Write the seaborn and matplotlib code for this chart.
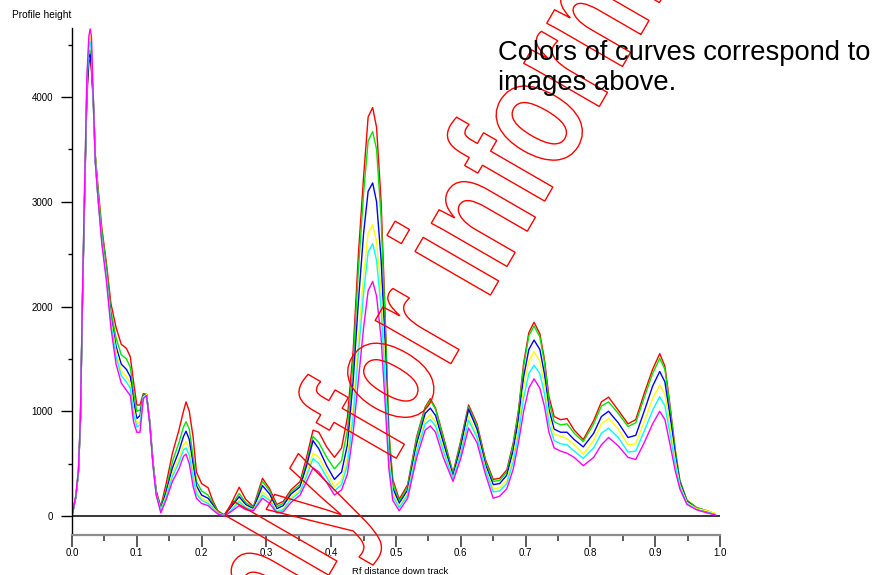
import numpy as np
import pandas as pd
import matplotlib
matplotlib.use("Agg")
import matplotlib.pyplot as plt
from matplotlib.ticker import MultipleLocator, FormatStrFormatter
from matplotlib.textpath import TextPath
from matplotlib.patches import PathPatch
from matplotlib.font_manager import FontProperties
from matplotlib.transforms import Affine2D, IdentityTransform
import seaborn as sns

# Rf position down the track (shared by all six profiles)
rf = [
    0.000, 0.006, 0.010, 0.013, 0.016, 0.018, 0.020, 0.023, 0.026, 0.028,
    0.030, 0.033, 0.036, 0.040, 0.046, 0.053, 0.060, 0.068, 0.076, 0.084,
    0.090, 0.095, 0.100, 0.105, 0.110, 0.115, 0.120, 0.125, 0.130, 0.137,
    0.145, 0.155, 0.165, 0.172, 0.176, 0.181, 0.187, 0.192, 0.200, 0.210,
    0.217, 0.225, 0.235, 0.245, 0.258, 0.268, 0.280, 0.294, 0.305, 0.316,
    0.326, 0.338, 0.352, 0.362, 0.372, 0.381, 0.393, 0.405, 0.416, 0.425,
    0.434, 0.442, 0.450, 0.457, 0.464, 0.470, 0.477, 0.483, 0.489, 0.495,
    0.505, 0.518, 0.532, 0.545, 0.553, 0.561, 0.573, 0.588, 0.600, 0.612,
    0.625, 0.638, 0.650, 0.660, 0.671, 0.681, 0.689, 0.697, 0.705, 0.713,
    0.722, 0.729, 0.736, 0.744, 0.754, 0.764, 0.775, 0.789, 0.805, 0.817,
    0.828, 0.843, 0.858, 0.870, 0.883, 0.896, 0.907, 0.915, 0.923, 0.931,
    0.938, 0.949, 0.964, 0.980, 0.993,
]

red = [
    0, 180, 420, 900, 2000, 2600, 3200, 4000, 4330, 4360,
    4250, 3970, 3450, 3150, 2750, 2420, 2030, 1800, 1640, 1600,
    1520, 1280, 1060, 1060, 1170, 1160, 900, 520, 240, 90,
    300, 600, 820, 1000, 1090, 1000, 750, 420, 310, 270,
    150, 50, 10, 110, 275, 160, 90, 360, 260, 110,
    140, 250, 330, 560, 820, 800, 660, 560, 650, 940,
    1590, 2500, 3240, 3810, 3900, 3710, 3000, 1970, 800, 350,
    160, 300, 760, 1040, 1120, 1030, 760, 410, 720, 1060,
    880, 540, 350, 360, 440, 700, 1010, 1460, 1750, 1850,
    1740, 1500, 1140, 950, 920, 930, 820, 730, 910, 1090,
    1135, 1010, 880, 920, 1170, 1400, 1550, 1430, 1050, 630,
    340, 150, 80, 50, 20,
]

green = [
    0, 190, 430, 920, 2020, 2650, 3250, 4100, 4420, 4450,
    4350, 3980, 3440, 3120, 2720, 2380, 1960, 1700, 1540, 1500,
    1420, 1180, 1000, 1010, 1160, 1160, 900, 510, 230, 80,
    250, 520, 700, 850, 900, 830, 560, 330, 240, 200,
    130, 40, 10, 90, 215, 130, 80, 330, 240, 90,
    120, 230, 300, 520, 760, 700, 560, 450, 530, 820,
    1480, 2350, 3080, 3580, 3670, 3500, 2850, 1900, 780, 320,
    140, 280, 740, 1030, 1105, 1020, 740, 400, 700, 1040,
    860, 520, 330, 340, 420, 680, 990, 1430, 1720, 1815,
    1710, 1470, 1100, 900, 870, 880, 790, 710, 880, 1050,
    1090, 980, 855, 890, 1130, 1360, 1505, 1400, 1030, 620,
    340, 150, 80, 50, 20,
]

blue = [
    0, 185, 425, 910, 2000, 2620, 3220, 4050, 4380, 4410,
    4300, 3920, 3380, 3050, 2650, 2320, 1900, 1620, 1450, 1400,
    1330, 1100, 930, 960, 1150, 1160, 890, 500, 220, 70,
    220, 460, 620, 760, 810, 730, 480, 290, 200, 170,
    110, 30, 10, 80, 185, 110, 70, 290, 210, 70,
    100, 210, 280, 480, 720, 640, 480, 350, 420, 680,
    1300, 2050, 2700, 3100, 3180, 3000, 2450, 1650, 680, 270,
    120, 250, 690, 980, 1030, 960, 700, 380, 660, 1020,
    830, 490, 300, 310, 390, 630, 920, 1330, 1590, 1680,
    1590, 1360, 1020, 830, 800, 800, 730, 660, 790, 950,
    1000, 890, 750, 770, 1000, 1240, 1380, 1280, 950, 580,
    320, 140, 70, 40, 15,
]

yellow = [
    0, 195, 440, 930, 2030, 2680, 3280, 4180, 4520, 4590,
    4500, 3940, 3400, 3060, 2640, 2300, 1870, 1570, 1390, 1330,
    1270, 1030, 880, 900, 1140, 1160, 890, 500, 210, 60,
    190, 410, 550, 680, 710, 640, 410, 240, 170, 140,
    90, 30, 5, 60, 155, 90, 60, 230, 170, 50,
    70, 180, 250, 410, 600, 560, 420, 280, 340, 560,
    1050, 1700, 2300, 2700, 2780, 2620, 2150, 1450, 600, 220,
    100, 220, 640, 920, 965, 900, 650, 360, 610, 950,
    780, 460, 260, 270, 340, 570, 840, 1230, 1480, 1570,
    1480, 1270, 950, 780, 760, 740, 680, 590, 720, 880,
    930, 830, 680, 690, 900, 1120, 1250, 1160, 860, 530,
    300, 130, 70, 50, 25,
]

cyan = [
    0, 190, 435, 920, 2020, 2660, 3260, 4150, 4480, 4530,
    4440, 3930, 3390, 3050, 2620, 2280, 1840, 1520, 1340, 1280,
    1220, 980, 850, 870, 1130, 1150, 885, 490, 200, 50,
    170, 380, 510, 630, 650, 580, 360, 210, 150, 120,
    80, 25, 5, 50, 137, 80, 55, 200, 150, 40,
    60, 160, 230, 380, 550, 500, 370, 240, 300, 490,
    950, 1550, 2130, 2520, 2600, 2440, 1980, 1320, 540, 190,
    80, 200, 610, 880, 920, 860, 620, 350, 590, 915,
    750, 440, 230, 240, 310, 520, 780, 1130, 1360, 1440,
    1360, 1170, 880, 720, 690, 680, 620, 550, 650, 790,
    840, 750, 610, 620, 810, 1010, 1140, 1050, 780, 490,
    280, 120, 60, 35, 15,
]

magenta = [
    0, 200, 450, 950, 2050, 2700, 3300, 4200, 4580, 4650,
    4580, 3950, 3380, 3050, 2600, 2250, 1800, 1450, 1270, 1200,
    1150, 900, 800, 800, 1120, 1150, 880, 480, 200, 30,
    150, 330, 450, 570, 590, 500, 280, 170, 120, 100,
    60, 20, 0, 40, 100, 60, 50, 170, 120, 30,
    40, 130, 200, 330, 460, 420, 320, 200, 250, 400,
    800, 1300, 1800, 2150, 2240, 2100, 1700, 1100, 450, 150,
    50, 170, 560, 820, 860, 800, 560, 330, 550, 840,
    700, 400, 170, 190, 260, 450, 700, 1000, 1220, 1310,
    1220, 1050, 800, 650, 620, 600, 560, 480, 560, 680,
    750, 670, 560, 540, 700, 880, 1000, 920, 680, 430,
    260, 110, 60, 30, 10,
]

curve_names = ["red", "green", "blue", "yellow", "cyan", "magenta"]
curve_colors = ["#ff0000", "#00e800", "#0000ff", "#ffff00", "#00ffff", "#ff00ff"]
series = [red, green, blue, yellow, cyan, magenta]

df = pd.concat(
    [pd.DataFrame({"rf": rf, "height": vals, "curve": name})
     for name, vals in zip(curve_names, series)],
    ignore_index=True,
)

sns.set_style("white")
plt.rcParams["font.family"] = ["Liberation Sans", "DejaVu Sans"]
plt.rcParams["text.color"] = "black"
plt.rcParams["xtick.labelcolor"] = "black"
plt.rcParams["ytick.labelcolor"] = "black"

W, H = 876, 575
fig = plt.figure(figsize=(W / 100, H / 100), dpi=100)
fig.patch.set_facecolor("white")
ax = fig.add_axes([72 / W, 40 / H, 648 / W, 507 / H])

sns.lineplot(
    data=df, x="rf", y="height", hue="curve",
    hue_order=curve_names, palette=dict(zip(curve_names, curve_colors)),
    estimator=None, sort=False, legend=False, linewidth=1.0, ax=ax,
)

# black zero line across the plot
ax.axhline(0, color="black", lw=1.1, zorder=1)

ax.set_xlim(0, 1.0)
ax.set_ylim(-181, 4659)

ax.xaxis.set_major_locator(MultipleLocator(0.1))
ax.xaxis.set_minor_locator(MultipleLocator(0.05))
ax.xaxis.set_major_formatter(FormatStrFormatter("%.1f"))
ax.set_yticks([0, 1000, 2000, 3000, 4000])
ax.yaxis.set_minor_locator(MultipleLocator(500))

ax.tick_params(axis="x", which="major", direction="out", length=8.5, width=1.2,
               color="#404040", pad=1, labelsize=7)
ax.tick_params(axis="x", which="minor", direction="out", length=4.3, width=1.2,
               color="#404040")
ax.tick_params(axis="y", which="major", direction="out", length=8, width=1,
               color="black", pad=5.5, labelsize=7)
ax.tick_params(axis="y", which="minor", direction="out", length=3, width=1,
               color="black")
ax.tick_params(bottom=True, left=True, which="both")

for side in ["top", "right"]:
    ax.spines[side].set_visible(False)
ax.spines["left"].set_color("black")
ax.spines["left"].set_linewidth(1)
ax.spines["bottom"].set_color("#8c8c8c")
ax.spines["bottom"].set_linewidth(1.6)

ax.set_xlabel("")
ax.set_ylabel("")

fig.text(12 / W, 1 - 15 / H, "Profile height", fontsize=7.3, va="center", ha="left")
fig.text(400 / W, 1 - 571 / H, "Rf distance down track", fontsize=6.8,
         va="center", ha="center")
fig.text(498 / W, 1 - 60 / H, "Colors of curves correspond to",
         fontsize=19.7, va="baseline", ha="left")
fig.text(498 / W, 1 - 90 / H, "images above.",
         fontsize=19.7, va="baseline", ha="left")

# outlined, condensed watermark drawn as a path in pixel space
em, squeeze, angle = 165, 0.72, 60
wm = TextPath((0, 0), "Only for information", size=em,
              prop=FontProperties(family="Liberation Sans", weight="bold"))
base = Affine2D().scale(squeeze, 1).rotate_deg(angle)
ox, oy = base.transform_point((3.139 * em, 0.27 * em))   # centre of the "o" in "for"
place = base + Affine2D().translate(390 - ox, (H - 380) - oy)
fig.add_artist(PathPatch(place.transform_path(wm), facecolor="none",
                         edgecolor="red", lw=1, transform=IdentityTransform()))

fig.savefig("out.png", dpi=100, facecolor="white")
plt.close(fig)
